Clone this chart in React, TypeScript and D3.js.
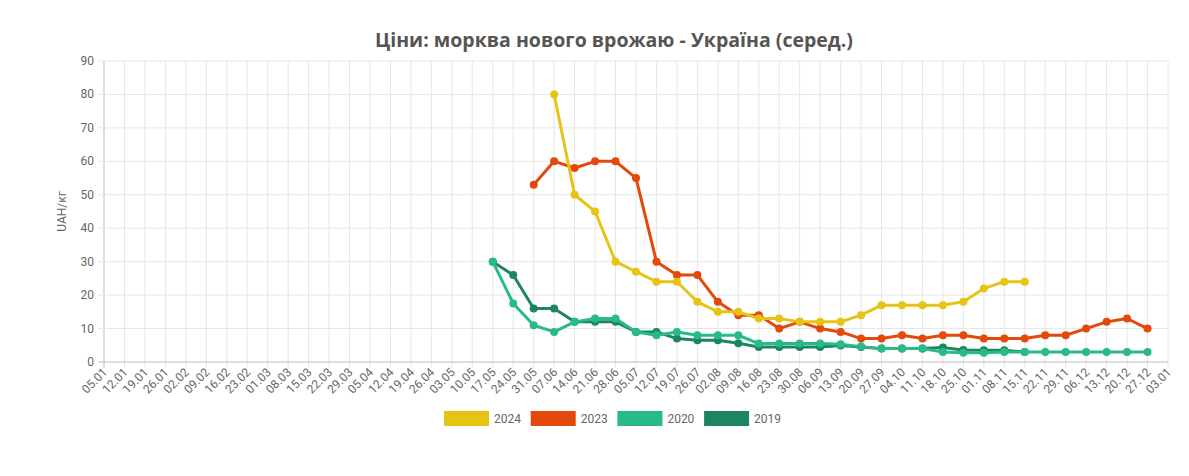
import React from "react";
import * as d3 from "d3";

const categories = ["05.01","12.01","19.01","26.01","02.02","09.02","16.02","23.02","01.03","08.03","15.03","22.03","29.03","05.04","12.04","19.04","26.04","03.05","10.05","17.05","24.05","31.05","07.06","14.06","21.06","28.06","05.07","12.07","19.07","26.07","02.08","09.08","16.08","23.08","30.08","06.09","13.09","20.09","27.09","04.10","11.10","18.10","25.10","01.11","08.11","15.11","22.11","29.11","06.12","13.12","20.12","27.12","03.01"];

// values start at given category index
const start2024 = 22;
const values2024 = [80, 50, 45, 30, 27, 24, 24, 18, 15, 15, 13, 13, 12, 12, 12, 14, 17, 17, 17, 17, 18, 22, 24, 24];
const start2023 = 21;
const values2023 = [53, 60, 58, 60, 60, 55, 30, 26, 26, 18, 14, 14, 10, 12, 10, 9, 7, 7, 8, 7, 8, 8, 7, 7, 7, 8, 8, 10, 12, 13, 10];
const start2020 = 19;
const values2020 = [30, 17.5, 11, 9, 12, 13, 13, 9, 8, 9, 8, 8, 8, 5.5, 5.5, 5.5, 5.5, 5.3, 4.6, 4, 4, 4, 3, 2.8, 2.8, 3, 3, 3, 3, 3, 3, 3, 3];
const start2019 = 19;
const values2019 = [30, 26, 16, 16, 12, 12, 12, 9, 9, 7, 6.5, 6.5, 5.6, 4.5, 4.5, 4.5, 4.5, 4.9, 4.5, 4, 4, 4, 4.3, 3.6, 3.5, 3.5, 3];

const yTicks = [0, 10, 20, 30, 40, 50, 60, 70, 80, 90];

const series = [
  { name: "2024", start: start2024, values: values2024, color: "#e5c416" },
  { name: "2023", start: start2023, values: values2023, color: "#e2490b" },
  { name: "2020", start: start2020, values: values2020, color: "#29ba8a" },
  { name: "2019", start: start2019, values: values2019, color: "#1d8660" },
];

const W = 1189, H = 476;
const L = 104, R = 1168, T = 61, B = 362;
const FONT = "Roboto, 'Noto Sans', sans-serif";

export default function App() {
  const x = d3.scalePoint<string>().domain(categories).range([L, R]);
  const y = d3.scaleLinear().domain([0, 90]).range([B, T]);
  const line = d3.line<[number, number]>().x(d => d[0]).y(d => d[1]);

  const drawOrder = [...series].reverse();

  return (
    <svg width={W} height={H} style={{ position: "absolute", left: 0, top: 0, fontFamily: FONT }}>
      <rect x={0} y={0} width={W} height={H} fill="#fff" />
      <text x={375} y={47} fontSize={20} fontWeight="bold" fill="#555" fontFamily="'Open Sans', sans-serif" textLength={478} lengthAdjust="spacingAndGlyphs">Ціни: морква нового врожаю - Україна (серед.)</text>
      {/* grid */}
      {categories.map((c, i) => (
        <line key={"vg" + i} x1={x(c)} x2={x(c)} y1={T} y2={B + 6} stroke={i === 0 ? "#bbb" : "#e6e6e6"} strokeWidth={1} />
      ))}
      {yTicks.map(t => (
        <line key={"hg" + t} x1={L - 6} x2={R} y1={y(t)} y2={y(t)} stroke={t === 0 ? "#bbb" : "#e6e6e6"} strokeWidth={1} />
      ))}
      {yTicks.map(t => (
        <text key={"yt" + t} x={L - 10} y={y(t) + 4} textAnchor="end" fontSize={12} fill="#666">{t}</text>
      ))}
      <text transform={`translate(66, ${(T + B) / 2}) rotate(-90)`} textAnchor="middle" fontSize={12} fill="#666">UAH/кг</text>
      {categories.map((c, i) => (
        <text key={"xt" + i} transform={`translate(${(x(c) as number) + 4}, ${B + 11}) rotate(-45)`} textAnchor="end" fontSize={12} fill="#666">{c}</text>
      ))}
      {/* series */}
      {drawOrder.map(s => {
        const pts: [number, number][] = s.values.map((v, i) => [x(categories[s.start + i]) as number, y(v)]);
        return (
          <g key={s.name}>
            <path d={line(pts) || ""} fill="none" stroke={s.color} strokeWidth={3} strokeLinejoin="round" />
            {pts.map((p, i) => (
              <circle key={i} cx={p[0]} cy={p[1]} r={4} fill={s.color} />
            ))}
          </g>
        );
      })}
      {/* legend */}
      {series.map((s, i) => {
        const lx = 444 + i * 86.7;
        return (
          <g key={"lg" + s.name}>
            <rect x={lx} y={411} width={45} height={15} fill={s.color} />
            <text x={lx + 50} y={423} fontSize={12} fill="#666">{s.name}</text>
          </g>
        );
      })}
    </svg>
  );
}
